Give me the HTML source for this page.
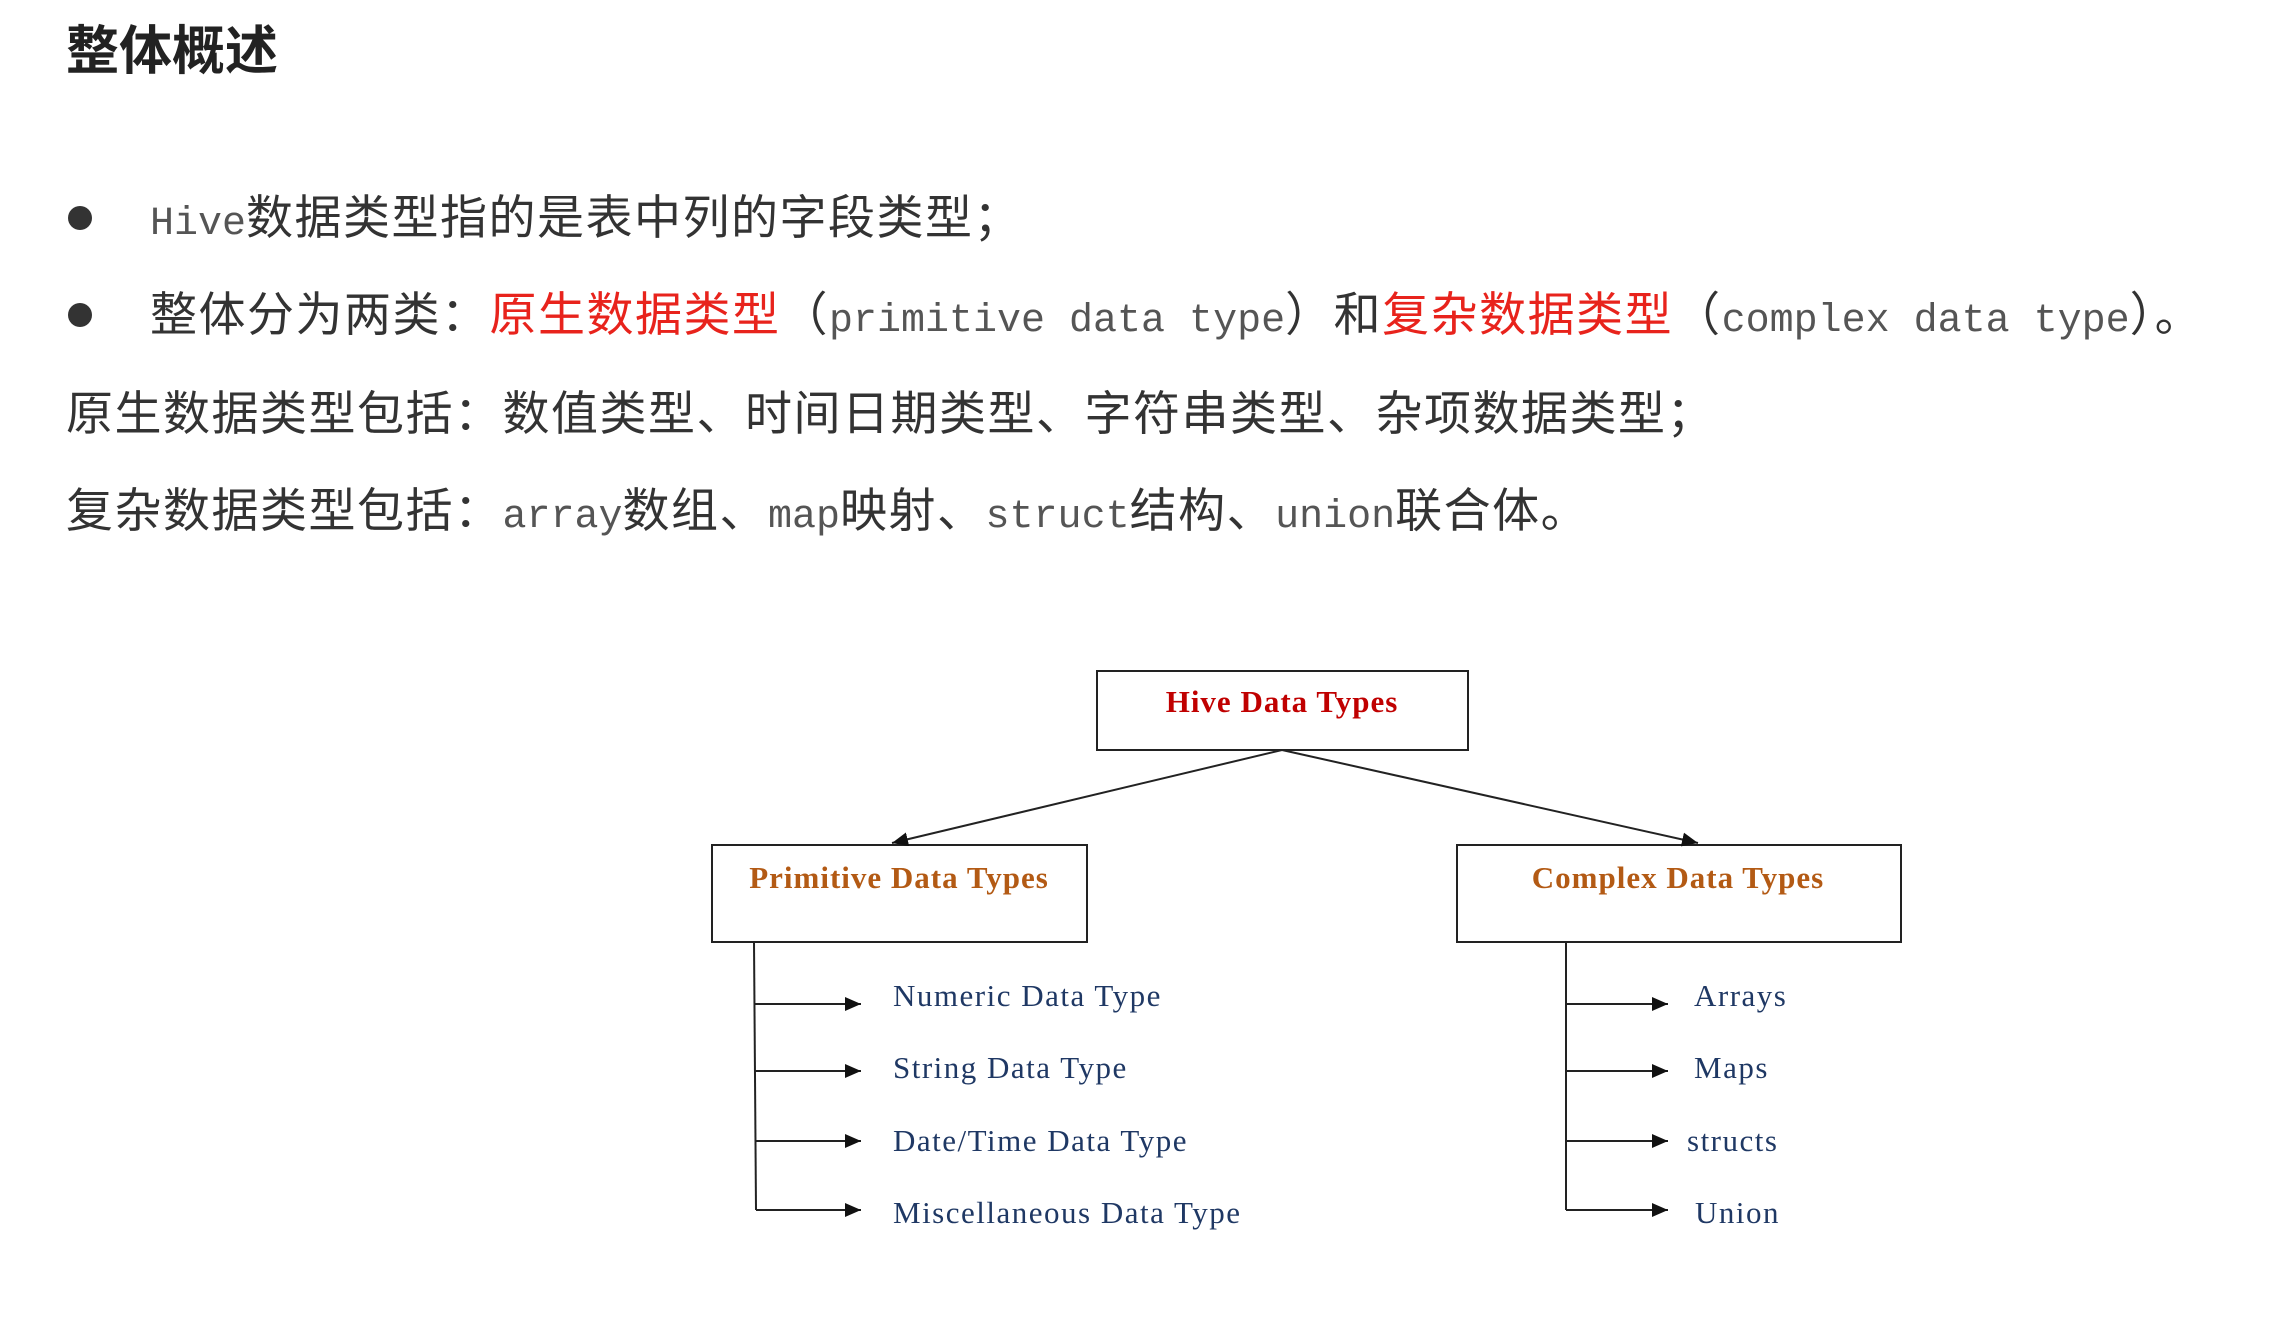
<!DOCTYPE html>
<html><head><meta charset="utf-8"><style>
body{margin:0;width:2284px;height:1326px;background:#fff;position:relative;overflow:hidden;font-family:"Liberation Sans","Noto Sans CJK SC",sans-serif;color:#333}
.t{position:absolute;white-space:nowrap;font-size:47px;line-height:60px;letter-spacing:1.5px}
.m{font-family:"Liberation Mono","Noto Sans CJK SC",monospace;font-size:40px;color:#555;letter-spacing:0}
.r{color:#e8231c}
.dot{position:absolute;width:24px;height:24px;border-radius:50%;background:#333}
svg text{font-family:"Liberation Serif",serif}
</style></head><body>
<div class="t" style="left:66px;top:22px;font-size:53px;font-weight:bold;color:#222;letter-spacing:0">整体概述</div>
<div class="dot" style="left:68px;top:206px"></div>
<div class="t" style="left:150px;top:188px"><span class="m">Hive</span>数据类型指的是表中列的字段类型；</div>
<div class="dot" style="left:68px;top:303px"></div>
<div class="t" style="left:150px;top:285px">整体分为两类：<span class="r">原生数据类型</span>（<span class="m">primitive data type</span>）和<span class="r">复杂数据类型</span>（<span class="m">complex data type</span>）。</div>
<div class="t" style="left:66px;top:384px">原生数据类型包括：数值类型、时间日期类型、字符串类型、杂项数据类型；</div>
<div class="t" style="left:66px;top:481px">复杂数据类型包括：<span class="m">array</span>数组、<span class="m">map</span>映射、<span class="m">struct</span>结构、<span class="m">union</span>联合体。</div>
<svg width="2284" height="1326" style="position:absolute;left:0;top:0">
<defs><marker id="b" markerWidth="16" markerHeight="14" refX="16" refY="7" orient="auto" markerUnits="userSpaceOnUse"><path d="M0,0 L16,7 L0,14 z" fill="#111"/></marker></defs>
<g fill="none" stroke="#222" stroke-width="2">
<rect x="1097" y="671" width="371" height="79"/>
<rect x="712" y="845" width="375" height="97"/>
<rect x="1457" y="845" width="444" height="97"/>
<line x1="1282" y1="750" x2="892" y2="843" marker-end="url(#b)"/>
<line x1="1282" y1="750" x2="1698" y2="843" marker-end="url(#b)"/>
<polyline points="754,942 756,1210"/>
<line x1="754" y1="1004" x2="861" y2="1004" marker-end="url(#b)"/>
<line x1="755" y1="1071" x2="861" y2="1071" marker-end="url(#b)"/>
<line x1="755" y1="1141" x2="861" y2="1141" marker-end="url(#b)"/>
<line x1="756" y1="1210" x2="861" y2="1210" marker-end="url(#b)"/>
<line x1="1566" y1="942" x2="1566" y2="1210"/>
<line x1="1566" y1="1004" x2="1668" y2="1004" marker-end="url(#b)"/>
<line x1="1566" y1="1071" x2="1668" y2="1071" marker-end="url(#b)"/>
<line x1="1566" y1="1141" x2="1668" y2="1141" marker-end="url(#b)"/>
<line x1="1566" y1="1210" x2="1668" y2="1210" marker-end="url(#b)"/>
</g>
<text x="1282" y="712" text-anchor="middle" font-size="31" font-weight="bold" fill="#c00000" letter-spacing="1">Hive Data Types</text>
<text x="899" y="888" text-anchor="middle" font-size="31" font-weight="bold" fill="#b35a14" letter-spacing="1">Primitive Data Types</text>
<text x="1678" y="888" text-anchor="middle" font-size="31" font-weight="bold" fill="#b35a14" letter-spacing="1">Complex Data Types</text>
<g font-size="31" fill="#1f3864" letter-spacing="1.5">
<text x="893" y="1006">Numeric Data Type</text>
<text x="893" y="1078">String Data Type</text>
<text x="893" y="1151">Date/Time Data Type</text>
<text x="893" y="1223">Miscellaneous Data Type</text>
<text x="1694" y="1006">Arrays</text>
<text x="1694" y="1078">Maps</text>
<text x="1687" y="1151">structs</text>
<text x="1695" y="1223">Union</text>
</g>
</svg>
</body></html>
